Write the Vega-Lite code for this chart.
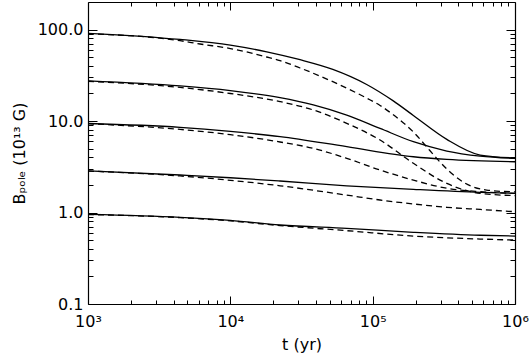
{
  "$schema": "https://vega.github.io/schema/vega-lite/v6.json",
  "width": 427,
  "height": 302,
  "autosize": {"type": "none"},
  "padding": {"left": 88, "top": 2, "right": 15, "bottom": 53},
  "background": "white",
  "config": {
    "view": {"stroke": null},
    "axis": {
      "labelFont": "DejaVu Sans",
      "titleFont": "DejaVu Sans",
      "labelFontSize": 16,
      "titleFontSize": 16,
      "titleFontWeight": "normal",
      "labelColor": "black",
      "titleColor": "black",
      "domainColor": "black",
      "domainWidth": 1.2,
      "tickColor": "black",
      "tickWidth": 1,
      "grid": false
    }
  },
  "data": {
    "values": [
      {"curve": "s1", "style": "solid", "t": 1000, "B": 91},
      {"curve": "s1", "style": "solid", "t": 4436, "B": 78},
      {"curve": "s1", "style": "solid", "t": 10000, "B": 67.6},
      {"curve": "s1", "style": "solid", "t": 18030, "B": 57.1},
      {"curve": "s1", "style": "solid", "t": 30900, "B": 46.8},
      {"curve": "s1", "style": "solid", "t": 52480, "B": 36.7},
      {"curve": "s1", "style": "solid", "t": 90780, "B": 25.1},
      {"curve": "s1", "style": "solid", "t": 139600, "B": 16.6},
      {"curve": "s1", "style": "solid", "t": 193200, "B": 11.5},
      {"curve": "s1", "style": "solid", "t": 331900, "B": 6.3},
      {"curve": "s1", "style": "solid", "t": 568900, "B": 4.25},
      {"curve": "s1", "style": "solid", "t": 1000000, "B": 3.95},

      {"curve": "d1", "style": "dashed", "t": 1000, "B": 90},
      {"curve": "d1", "style": "dashed", "t": 4436, "B": 75.5},
      {"curve": "d1", "style": "dashed", "t": 6124, "B": 69.5},
      {"curve": "d1", "style": "dashed", "t": 10000, "B": 62},
      {"curve": "d1", "style": "dashed", "t": 18030, "B": 50.1},
      {"curve": "d1", "style": "dashed", "t": 22340, "B": 45.7},
      {"curve": "d1", "style": "dashed", "t": 30900, "B": 38.0},
      {"curve": "d1", "style": "dashed", "t": 52480, "B": 26.9},
      {"curve": "d1", "style": "dashed", "t": 90780, "B": 17.8},
      {"curve": "d1", "style": "dashed", "t": 112700, "B": 14.8},
      {"curve": "d1", "style": "dashed", "t": 139600, "B": 11.7},
      {"curve": "d1", "style": "dashed", "t": 193200, "B": 7.59},
      {"curve": "d1", "style": "dashed", "t": 251200, "B": 4.79},
      {"curve": "d1", "style": "dashed", "t": 297800, "B": 3.55},
      {"curve": "d1", "style": "dashed", "t": 363100, "B": 2.63},
      {"curve": "d1", "style": "dashed", "t": 434500, "B": 2.14},
      {"curve": "d1", "style": "dashed", "t": 631000, "B": 1.76},
      {"curve": "d1", "style": "dashed", "t": 1000000, "B": 1.68},

      {"curve": "s2", "style": "solid", "t": 1000, "B": 27.5},
      {"curve": "s2", "style": "solid", "t": 4436, "B": 24.2},
      {"curve": "s2", "style": "solid", "t": 10000, "B": 21.5},
      {"curve": "s2", "style": "solid", "t": 22340, "B": 18.0},
      {"curve": "s2", "style": "solid", "t": 38280, "B": 15.0},
      {"curve": "s2", "style": "solid", "t": 65770, "B": 11.6},
      {"curve": "s2", "style": "solid", "t": 112700, "B": 8.3},
      {"curve": "s2", "style": "solid", "t": 193200, "B": 5.94},
      {"curve": "s2", "style": "solid", "t": 331900, "B": 4.7},
      {"curve": "s2", "style": "solid", "t": 568900, "B": 4.14},
      {"curve": "s2", "style": "solid", "t": 1000000, "B": 3.9},

      {"curve": "d2", "style": "dashed", "t": 1000, "B": 27.2},
      {"curve": "d2", "style": "dashed", "t": 4436, "B": 23.3},
      {"curve": "d2", "style": "dashed", "t": 10000, "B": 20},
      {"curve": "d2", "style": "dashed", "t": 22340, "B": 16.3},
      {"curve": "d2", "style": "dashed", "t": 38280, "B": 13.2},
      {"curve": "d2", "style": "dashed", "t": 65770, "B": 9.44},
      {"curve": "d2", "style": "dashed", "t": 112700, "B": 6.2},
      {"curve": "d2", "style": "dashed", "t": 193200, "B": 3.45},
      {"curve": "d2", "style": "dashed", "t": 331900, "B": 2.08},
      {"curve": "d2", "style": "dashed", "t": 568900, "B": 1.62},
      {"curve": "d2", "style": "dashed", "t": 1000000, "B": 1.53},

      {"curve": "s3", "style": "solid", "t": 1000, "B": 9.4},
      {"curve": "s3", "style": "solid", "t": 4436, "B": 8.53},
      {"curve": "s3", "style": "solid", "t": 10000, "B": 7.7},
      {"curve": "s3", "style": "solid", "t": 22340, "B": 6.75},
      {"curve": "s3", "style": "solid", "t": 65770, "B": 5.24},
      {"curve": "s3", "style": "solid", "t": 193200, "B": 4.07},
      {"curve": "s3", "style": "solid", "t": 331900, "B": 3.81},
      {"curve": "s3", "style": "solid", "t": 1000000, "B": 3.59},

      {"curve": "d3", "style": "dashed", "t": 1000, "B": 9.35},
      {"curve": "d3", "style": "dashed", "t": 4436, "B": 8.1},
      {"curve": "d3", "style": "dashed", "t": 10000, "B": 7.1},
      {"curve": "d3", "style": "dashed", "t": 22340, "B": 5.9},
      {"curve": "d3", "style": "dashed", "t": 38280, "B": 5.03},
      {"curve": "d3", "style": "dashed", "t": 65770, "B": 3.91},
      {"curve": "d3", "style": "dashed", "t": 112700, "B": 2.91},
      {"curve": "d3", "style": "dashed", "t": 193200, "B": 2.26},
      {"curve": "d3", "style": "dashed", "t": 331900, "B": 1.84},
      {"curve": "d3", "style": "dashed", "t": 568900, "B": 1.69},
      {"curve": "d3", "style": "dashed", "t": 1000000, "B": 1.62},

      {"curve": "s4", "style": "solid", "t": 1000, "B": 2.86},
      {"curve": "s4", "style": "solid", "t": 4436, "B": 2.57},
      {"curve": "s4", "style": "solid", "t": 10000, "B": 2.4},
      {"curve": "s4", "style": "solid", "t": 22340, "B": 2.21},
      {"curve": "s4", "style": "solid", "t": 65770, "B": 1.96},
      {"curve": "s4", "style": "solid", "t": 193200, "B": 1.79},
      {"curve": "s4", "style": "solid", "t": 568900, "B": 1.66},
      {"curve": "s4", "style": "solid", "t": 1000000, "B": 1.62},

      {"curve": "d4", "style": "dashed", "t": 1000, "B": 2.84},
      {"curve": "d4", "style": "dashed", "t": 4436, "B": 2.51},
      {"curve": "d4", "style": "dashed", "t": 10000, "B": 2.25},
      {"curve": "d4", "style": "dashed", "t": 22340, "B": 1.96},
      {"curve": "d4", "style": "dashed", "t": 65770, "B": 1.55},
      {"curve": "d4", "style": "dashed", "t": 112700, "B": 1.37},
      {"curve": "d4", "style": "dashed", "t": 193200, "B": 1.24},
      {"curve": "d4", "style": "dashed", "t": 331900, "B": 1.14},
      {"curve": "d4", "style": "dashed", "t": 568900, "B": 1.08},
      {"curve": "d4", "style": "dashed", "t": 1000000, "B": 1.02},

      {"curve": "s5", "style": "solid", "t": 1000, "B": 0.955},
      {"curve": "s5", "style": "solid", "t": 4436, "B": 0.887},
      {"curve": "s5", "style": "solid", "t": 10000, "B": 0.82},
      {"curve": "s5", "style": "solid", "t": 22340, "B": 0.73},
      {"curve": "s5", "style": "solid", "t": 65770, "B": 0.671},
      {"curve": "s5", "style": "solid", "t": 193200, "B": 0.608},
      {"curve": "s5", "style": "solid", "t": 568900, "B": 0.564},
      {"curve": "s5", "style": "solid", "t": 1000000, "B": 0.553},

      {"curve": "d5", "style": "dashed", "t": 1000, "B": 0.95},
      {"curve": "d5", "style": "dashed", "t": 4436, "B": 0.88},
      {"curve": "d5", "style": "dashed", "t": 10000, "B": 0.81},
      {"curve": "d5", "style": "dashed", "t": 22340, "B": 0.72},
      {"curve": "d5", "style": "dashed", "t": 65770, "B": 0.633},
      {"curve": "d5", "style": "dashed", "t": 193200, "B": 0.553},
      {"curve": "d5", "style": "dashed", "t": 568900, "B": 0.513},
      {"curve": "d5", "style": "dashed", "t": 1000000, "B": 0.50}
    ]
  },
  "resolve": {"axis": {"x": "independent", "y": "independent"}},
  "layer": [
    {
      "transform": [{"filter": "datum.style == 'solid'"}],
      "mark": {"type": "line", "color": "black", "strokeWidth": 1.3, "interpolate": "monotone", "clip": true},
      "encoding": {
        "x": {
          "field": "t", "type": "quantitative",
          "scale": {"type": "log", "domain": [1000, 1000000], "nice": false},
          "axis": {
            "orient": "bottom",
            "title": "t  (yr)",
            "titlePadding": 3,
            "values": [1000,2000,3000,4000,5000,6000,7000,8000,9000,10000,20000,30000,40000,50000,60000,70000,80000,90000,100000,200000,300000,400000,500000,600000,700000,800000,900000,1000000],
            "labelExpr": "datum.value == 1000 ? '10³' : datum.value == 10000 ? '10⁴' : datum.value == 100000 ? '10⁵' : datum.value == 1000000 ? '10⁶' : ''",
            "tickSize": {"condition": {"test": "indexof([1000,10000,100000,1000000], datum.value) >= 0", "value": -8}, "value": -4},
            "labelPadding": 17,
            "labelFlush": false,
            "labelOverlap": false
          }
        },
        "y": {
          "field": "B", "type": "quantitative",
          "scale": {"type": "log", "domain": [0.1, 200], "nice": false},
          "axis": {
            "orient": "left",
            "title": "Bₚₒₗₑ  (10¹³ G)",
            "titlePadding": 10,
            "values": [0.1,0.2,0.3,0.4,0.5,0.6,0.7,0.8,0.9,1,2,3,4,5,6,7,8,9,10,20,30,40,50,60,70,80,90,100],
            "labelExpr": "datum.value == 100 ? '100.0' : datum.value == 10 ? '10.0' : datum.value == 1 ? '1.0' : datum.value == 0.1 ? '0.1' : ''",
            "tickSize": {"condition": {"test": "indexof([0.1,1,10,100], datum.value) >= 0", "value": -9}, "value": -5},
            "labelPadding": 14,
            "labelFlush": false,
            "labelOverlap": false
          }
        },
        "detail": {"field": "curve"}
      }
    },
    {
      "transform": [{"filter": "datum.style == 'dashed'"}],
      "mark": {"type": "line", "color": "black", "strokeWidth": 1.3, "strokeDash": [6, 4], "interpolate": "monotone", "clip": true},
      "encoding": {
        "x": {
          "field": "t", "type": "quantitative",
          "scale": {"type": "log", "domain": [1000, 1000000], "nice": false},
          "axis": {
            "orient": "top",
            "title": null,
            "labels": false,
            "values": [1000,2000,3000,4000,5000,6000,7000,8000,9000,10000,20000,30000,40000,50000,60000,70000,80000,90000,100000,200000,300000,400000,500000,600000,700000,800000,900000,1000000],
            "tickSize": {"condition": {"test": "indexof([1000,10000,100000,1000000], datum.value) >= 0", "value": -8}, "value": -4}
          }
        },
        "y": {
          "field": "B", "type": "quantitative",
          "scale": {"type": "log", "domain": [0.1, 200], "nice": false},
          "axis": {
            "orient": "right",
            "title": null,
            "labels": false,
            "values": [0.1,0.2,0.3,0.4,0.5,0.6,0.7,0.8,0.9,1,2,3,4,5,6,7,8,9,10,20,30,40,50,60,70,80,90,100],
            "tickSize": {"condition": {"test": "indexof([0.1,1,10,100], datum.value) >= 0", "value": -9}, "value": -5}
          }
        },
        "detail": {"field": "curve"}
      }
    }
  ]
}
